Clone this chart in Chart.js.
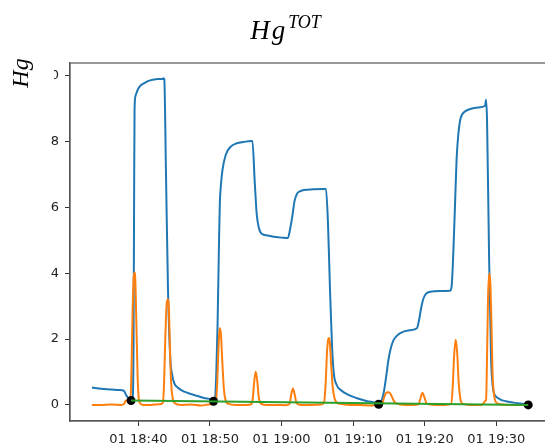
<!DOCTYPE html>
<html>
<head>
<meta charset="utf-8">
<script src="https://cdn.jsdelivr.net/npm/chart.js@4/dist/chart.umd.min.js"></script>
<style>
  html, body { margin: 0; padding: 0; background: #fff; overflow: hidden; }
  #wrap { width: 560px; height: 445px; }
</style>
</head>
<body>
<div id="wrap"><canvas id="hgChart" width="560" height="445"></canvas></div>
<script>
// minutes after 18:00 on day 01
const blueTimes = [
    33.51, 34.8, 36.2, 37.31, 37.97, 38.29, 38.7, 38.98, 39.19, 39.33,
    39.4, 39.47, 39.61, 39.96, 40.38, 40.84, 41.35, 42.0, 42.74, 43.4,
    43.51, 43.62, 43.86, 44.14, 44.46, 44.69, 45.01, 45.53, 46.41, 47.34,
    48.27, 49.15, 50.13, 50.5, 50.68, 50.89, 51.06, 51.27, 51.38, 51.56,
    51.75, 52.21, 52.91, 53.75, 54.72, 55.7, 55.93, 56.25, 56.53, 56.81,
    57.23, 58.02, 59.18, 60.15, 60.89, 61.2, 61.5, 61.82, 62.2, 62.66,
    63.12, 64.47, 66.0, 66.21, 66.49, 66.77, 67.05, 67.3, 67.67, 68.23,
    69.2, 70.56, 71.85, 73.34, 73.57, 73.8, 74.26, 74.64, 74.92, 75.2,
    75.61, 76.03, 76.59, 77.7, 78.91, 79.23, 79.51, 79.83, 80.2, 80.76,
    82.15, 83.55, 83.76, 84.01, 84.25, 84.46, 84.71, 84.95, 85.18, 85.64,
    86.34, 87.45, 88.43, 88.57, 88.71, 88.99, 89.27, 89.48, 89.69, 89.96,
    90.51, 91.35, 92.37, 93.3, 94.46
];
const blueValues = [
    0.53, 0.49, 0.47, 0.45, 0.43, 0.30, 0.17, 0.13, 0.12, 2.0,
    6.0, 9.0, 9.4, 9.6, 9.72, 9.78, 9.84, 9.88, 9.9, 9.9,
    9.93, 9.9, 7.0, 3.5, 1.4, 0.95, 0.66, 0.52, 0.40, 0.33,
    0.27, 0.21, 0.17, 0.13, 0.12, 1.0, 2.4, 5.0, 6.13, 6.75,
    7.14, 7.6, 7.85, 7.95, 7.99, 8.02, 8.02, 6.8, 5.8, 5.4,
    5.2, 5.15, 5.1, 5.08, 5.07, 5.35, 5.72, 6.2, 6.43, 6.5,
    6.53, 6.55, 6.56, 6.56, 5.5, 3.5, 1.8, 0.96, 0.62, 0.46,
    0.32, 0.2, 0.12, 0.05, 0.03, 0.05, 0.36, 0.9, 1.35, 1.67,
    1.95, 2.08, 2.18, 2.26, 2.33, 2.6, 2.95, 3.24, 3.38, 3.44,
    3.46, 3.47, 3.6, 4.71, 6.2, 7.5, 8.26, 8.65, 8.81, 8.92,
    8.99, 9.04, 9.09, 9.27, 8.6, 4.5, 1.4, 0.6, 0.35, 0.25,
    0.17, 0.11, 0.07, 0.04, 0.02
];

const orangeTimes = [
    33.51, 34.8, 36.2, 37.59, 38.01, 38.29, 38.57, 38.89, 39.05, 39.19,
    39.33, 39.44, 39.57, 39.72, 39.89, 40.03, 40.24, 40.65, 41.77, 42.88,
    43.4, 43.58, 43.76, 43.93, 44.09, 44.25, 44.38, 44.55, 44.79, 45.11,
    45.95, 47.34, 48.73, 50.13, 50.82, 51.0, 51.17, 51.3, 51.41, 51.55,
    51.73, 51.94, 52.21, 52.63, 53.61, 55.0, 55.79, 55.98, 56.18, 56.39,
    56.6, 56.81, 57.09, 57.79, 59.18, 60.57, 61.13, 61.34, 61.59, 61.83,
    62.1, 62.66, 64.05, 65.45, 65.91, 66.15, 66.35, 66.49, 66.6, 66.74,
    66.91, 67.12, 67.4, 67.67, 68.23, 69.62, 71.01, 72.41, 73.52, 74.07,
    74.29, 74.57, 74.92, 75.2, 75.47, 75.75, 76.17, 77.28, 78.25, 79.14,
    79.41, 79.69, 79.97, 80.3, 81.46, 82.85, 83.69, 83.9, 84.11, 84.32,
    84.53, 84.74, 85.04, 85.36, 86.34, 87.74, 88.19, 88.43, 88.57, 88.71,
    88.85, 89.03, 89.19, 89.33, 89.47, 89.69, 89.96, 90.51, 91.9, 93.3,
    94.43
];
const orangeValues = [
    0.0, 0.0, 0.01, 0.0, 0.03, 0.14, 0.12, 0.15, 1.2, 2.8,
    3.8, 4.02, 3.8, 2.5, 0.9, 0.25, 0.05, 0.0, 0.0, 0.02,
    0.05, 0.6, 2.0, 3.0, 3.21, 3.0, 2.0, 0.8, 0.2, 0.05,
    0.0, 0.01, -0.02, 0.02, 0.05, 0.6, 1.6, 2.2, 2.33, 2.1,
    1.3, 0.5, 0.12, 0.03, 0.0, 0.0, 0.02, 0.2, 0.7, 1.01,
    0.75, 0.25, 0.04, 0.0, 0.0, -0.01, 0.03, 0.3, 0.5, 0.32,
    0.05, 0.0, 0.0, 0.01, 0.05, 0.6, 1.6, 1.95, 2.03, 1.9,
    1.3, 0.6, 0.2, 0.08, 0.03, 0.0, 0.0, -0.02, 0.0, 0.03,
    0.2, 0.35, 0.38, 0.34, 0.22, 0.1, 0.03, 0.0, 0.0, 0.02,
    0.2, 0.37, 0.22, 0.03, 0.0, 0.0, 0.03, 0.5, 1.5, 1.98,
    1.6, 0.7, 0.12, 0.03, 0.0, 0.0, 0.03, 0.12, 0.15, 1.5,
    3.3, 4.0, 3.6, 2.4, 1.0, 0.3, 0.08, 0.02, 0.0, 0.0,
    0.0
];

// baseline points and the straight line through them
const dotTimes = [38.98, 50.5, 73.57, 94.46];
const dotValues = [0.13, 0.11, 0.02, 0.0];
const fitTimes = [38.98, 94.46];
const fitValues = [0.13, 0.0];

const xTicks = [40, 50, 60, 70, 80, 90];
const yTicks = [0, 2, 4, 6, 8, 10];

const pairs = (ts, vs) => ts.map((t, i) => ({ x: t, y: vs[i] }));

const fmtTime = v => {
    const h = 18 + Math.floor(v / 60);
    const m = Math.round(v % 60);
    return '01 ' + h + ':' + String(m).padStart(2, '0');
};

// title, y label (with its white box) and the axes frame
const decor = {
    id: 'decor',
    afterDraw(chart) {
        const ctx = chart.ctx;
        const a = chart.chartArea;
        ctx.save();
        ctx.strokeStyle = '#555';
        ctx.lineWidth = 1.2;
        ctx.strokeRect(a.left, a.top, a.right - a.left, a.bottom - a.top);

        // y label box covers part of the top tick label
        ctx.fillStyle = '#fff';
        ctx.fillRect(0, 54, 54, 38);
        ctx.fillStyle = '#000';
        ctx.font = 'italic 24px "Liberation Serif"';
        ctx.translate(28, 73);
        ctx.rotate(-Math.PI / 2);
        ctx.textAlign = 'center';
        ctx.textBaseline = 'alphabetic';
        ctx.fillText('Hg', 0, 0);
        ctx.restore();

        ctx.save();
        ctx.fillStyle = '#000';
        ctx.textBaseline = 'alphabetic';
        ctx.textAlign = 'left';
        const base = 'Hg';
        const sup = 'TOT';
        ctx.font = 'italic 27px "Liberation Serif"';
        const w1 = ctx.measureText(base).width;
        ctx.font = 'italic 18px "Liberation Serif"';
        const w2 = ctx.measureText(sup).width;
        const x0 = 285 - (w1 + 4 + w2) / 2;
        ctx.font = 'italic 27px "Liberation Serif"';
        ctx.fillText('H', x0, 39);
        ctx.fillText('g', x0 + ctx.measureText('H').width + 2, 39);
        ctx.font = 'italic 18px "Liberation Serif"';
        ctx.fillText(sup, x0 + w1 + 5, 28);
        ctx.restore();
    }
};

const lineStyle = color => ({
    borderColor: color,
    backgroundColor: color,
    borderWidth: 2,
    pointRadius: 0,
    fill: false,
    cubicInterpolationMode: 'monotone'
});

new Chart(document.getElementById('hgChart'), {
    type: 'line',
    data: {
        datasets: [
            Object.assign({ label: 'fit', data: pairs(fitTimes, fitValues), order: 0 }, lineStyle('#2ca02c')),
            {
                label: 'points',
                data: pairs(dotTimes, dotValues),
                order: 1,
                showLine: false,
                pointRadius: 4.5,
                pointBackgroundColor: '#000',
                pointBorderColor: '#000',
                pointBorderWidth: 0
            },
            Object.assign({ label: 'peaks', data: pairs(orangeTimes, orangeValues), order: 2 }, lineStyle('#ff7f0e')),
            Object.assign({ label: 'HgTOT', data: pairs(blueTimes, blueValues), order: 3 }, lineStyle('#1f77b4'))
        ]
    },
    options: {
        responsive: false,
        animation: false,
        layout: { padding: { top: 63, right: 10, bottom: 0, left: 0 } },
        plugins: {
            legend: { display: false },
            tooltip: { enabled: false },
            title: { display: false }
        },
        scales: {
            x: {
                type: 'linear',
                min: 30.45,
                max: 97.5,
                afterBuildTicks: s => { s.ticks = xTicks.map(v => ({ value: v })); },
                afterFit: s => { s.height = 24; },
                grid: { drawOnChartArea: false, drawTicks: true, tickLength: 5, tickColor: '#333' },
                border: { display: true, color: '#555', width: 1.2 },
                ticks: {
                    autoSkip: false,
                    maxRotation: 0,
                    padding: 6,
                    color: '#222',
                    font: { family: 'DejaVu Sans', size: 13 },
                    callback: v => fmtTime(v)
                }
            },
            y: {
                type: 'linear',
                min: -0.49,
                max: 10.39,
                afterBuildTicks: s => { s.ticks = yTicks.map(v => ({ value: v })); },
                afterFit: s => { s.width = 70; },
                grid: { drawOnChartArea: false, drawTicks: true, tickLength: 5, tickColor: '#333' },
                border: { display: true, color: '#555', width: 1.2 },
                ticks: {
                    padding: 6,
                    color: '#222',
                    font: { family: 'DejaVu Sans', size: 13 },
                    callback: v => String(v)
                }
            }
        }
    },
    plugins: [decor]
});
</script>
</body>
</html>
